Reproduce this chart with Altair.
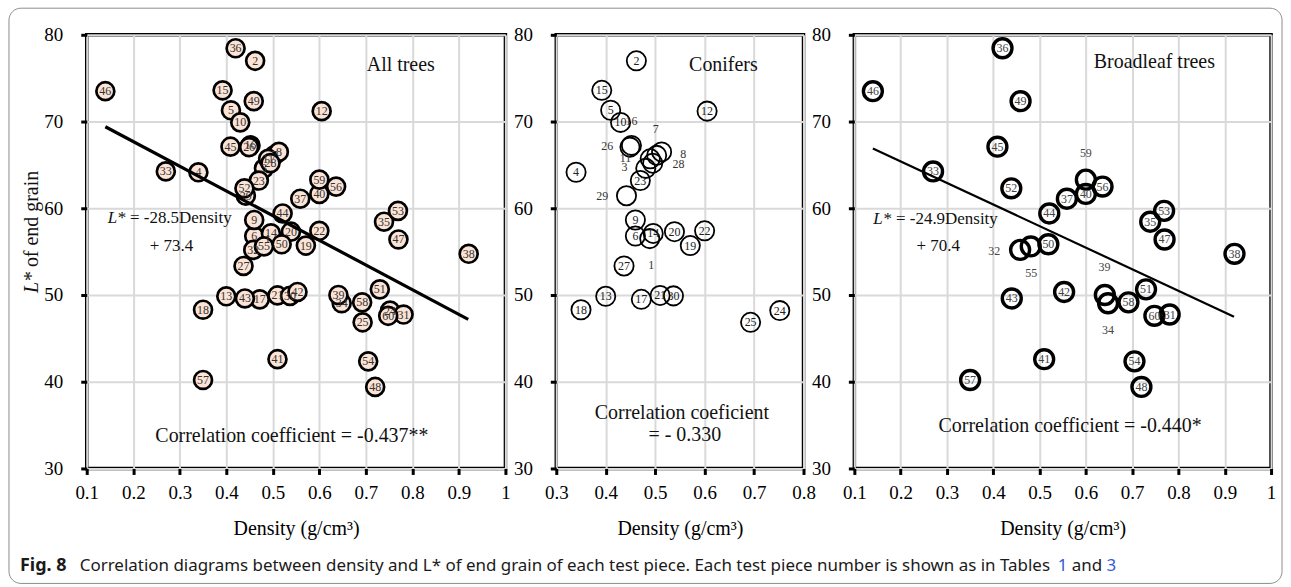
import altair as alt
import pandas as pd

# ---------------- data ----------------
con_id = list(range(1, 31))
con_density = [0.489, 0.462, 0.481, 0.340, 0.410, 0.460, 0.503, 0.513, 0.460, 0.430,
               0.490, 0.605, 0.400, 0.496, 0.392, 0.452, 0.472, 0.350, 0.571, 0.539,
               0.510, 0.600, 0.470, 0.752, 0.693, 0.449, 0.437, 0.495, 0.442, 0.537]
con_l = [56.5, 77.0, 64.6, 64.15, 71.3, 56.8, 66.1, 66.5, 58.65, 69.9,
         65.7, 71.2, 49.85, 57.1, 73.6, 67.25, 49.5, 48.3, 55.7, 57.3,
         49.95, 57.4, 63.2, 48.2, 46.85, 67.05, 53.35, 65.2, 61.45, 49.9]

bl_id = list(range(31, 61))
bl_density = [0.781, 0.458, 0.270, 0.648, 0.739, 0.420, 0.559, 0.921, 0.641, 0.600,
              0.510, 0.553, 0.440, 0.521, 0.409, 0.140, 0.770, 0.720, 0.459, 0.519,
              0.730, 0.439, 0.769, 0.705, 0.481, 0.636, 0.350, 0.692, 0.600, 0.748]
bl_l = [47.75, 55.2, 64.25, 49.05, 58.45, 78.45, 61.1, 54.75, 50.0, 61.65,
        42.6, 50.35, 49.6, 59.4, 67.1, 73.5, 56.4, 39.4, 72.35, 55.85,
        50.65, 62.3, 59.7, 42.35, 55.6, 62.5, 40.2, 49.15, 63.3, 47.6]

# labels drawn beside (not inside) their circles
con_ext_id = [16, 26, 7, 8, 28, 11, 3, 29, 1]
con_ext_x = [0.452, 0.403, 0.501, 0.557, 0.547, 0.440, 0.438, 0.393, 0.492]
con_ext_y = [70.05, 67.15, 69.1, 66.3, 65.1, 65.8, 64.7, 61.4, 53.5]
bl_ext_id = [59, 32, 55, 39, 34]
bl_ext_x = [0.600, 0.402, 0.482, 0.640, 0.648]
bl_ext_y = [66.4, 55.1, 52.5, 53.2, 46.0]

# regression lines (end points)
all_line_x = [0.14, 0.92]
all_line_y = [69.4, 47.2]
bl_line_x = [0.14, 0.92]
bl_line_y = [66.9, 47.5]

x_ticks_wide = [0.1, 0.2, 0.3, 0.4, 0.5, 0.6, 0.7, 0.8, 0.9, 1.0]
x_ticks_con = [0.3, 0.4, 0.5, 0.6, 0.7, 0.8]
y_ticks = [30, 40, 50, 60, 70, 80]

SERIF = "Liberation Serif"
SANS = "Noto Sans"


def pts(ids, xs, ys):
    return pd.DataFrame({"id": [str(i) for i in ids], "d": xs, "l": ys})


def encs(domain, ticks):
    x = alt.X("d:Q", scale=alt.Scale(domain=domain, nice=False, zero=False),
              axis=alt.Axis(values=ticks, format=".1~f", title="Density (g/cm³)",
                            grid=True, gridColor="#d9d9d9", gridWidth=2,
                            domain=False, ticks=True, tickColor="black", tickWidth=3,
                            tickSize=6, labelFont=SERIF, labelFontSize=19,
                            labelColor="black", labelPadding=9,
                            titleFont=SERIF, titleFontSize=20, titleFontWeight="normal",
                            titleColor="black", titlePadding=16, labelFlush=False))
    y = alt.Y("l:Q", scale=alt.Scale(domain=[30, 80], nice=False, zero=False),
              axis=alt.Axis(values=y_ticks, title=None, grid=True, gridColor="#d9d9d9",
                            gridWidth=2, domain=False, ticks=True, tickColor="black",
                            tickWidth=3, tickSize=6, labelFont=SERIF, labelFontSize=19,
                            labelColor="black", labelPadding=18, labelFlush=False))
    return x, y


def note(X, Y, d, l, t, **kw):
    base = dict(font=SERIF, fontSize=20, color="#111", align="center", baseline="middle")
    base.update(kw)
    return alt.Chart(pd.DataFrame({"d": [d], "l": [l], "t": [t]})).mark_text(**base).encode(
        x=X, y=Y, text="t:N")


def pix_text(t, x, y, **kw):
    base = dict(font=SERIF, fontSize=20, color="#111", align="left", baseline="middle")
    base.update(kw)
    return alt.Chart(pd.DataFrame({"t": [t]})).mark_text(**base).encode(
        x=alt.value(x), y=alt.value(y), text="t:N")


# ---------------- panel 1: all trees ----------------
X1, Y1 = encs([0.1, 1.0], x_ticks_wide)
all_df = pts(con_id + bl_id, con_density + bl_density, con_l + bl_l)

p1_points = alt.Chart(all_df).mark_point(
    shape="circle", size=324, filled=True, fill="#FBE3D6", fillOpacity=1,
    stroke="black", strokeWidth=2.7, opacity=1).encode(x=X1, y=Y1)
p1_labels = alt.Chart(all_df).mark_text(
    font=SERIF, fontSize=12, color="#333", baseline="middle").encode(x=X1, y=Y1, text="id:N")
p1_line = alt.Chart(pd.DataFrame({"d": all_line_x, "l": all_line_y})).mark_line(
    color="black", strokeWidth=3.2).encode(x=X1, y=Y1)

border = alt.Chart(pd.DataFrame({"a": [0]})).mark_rect(
    fill="white", fillOpacity=0, stroke="#8c8c8c", strokeWidth=1, cornerRadius=12).encode(
    x=alt.value(-78), x2=alt.value(1199), y=alt.value(-26.7), y2=alt.value(550.3))

CAP = 17
panel1 = alt.layer(
    border,
    p1_points, p1_labels, p1_line,
    note(X1, Y1, 0.775, 76.5, "All trees"),
    note(X1, Y1, 0.145, 58.9, "L*", fontSize=17, fontStyle="italic", align="left"),
    note(X1, Y1, 0.193, 58.9, "= -28.5Density", fontSize=17, align="left"),
    note(X1, Y1, 0.282, 55.6, "+ 73.4", fontSize=17),
    note(X1, Y1, 0.541, 33.75, "Correlation coefficient = -0.437**"),
    pix_text("L*", -55, 259, angle=270, fontStyle="italic"),
    pix_text("of end grain", -55, 233, angle=270),
    pix_text("Fig. 8", -67, 533, font=SANS, fontSize=18, fontWeight="bold", color="#1a1a1a"),
    pix_text("Correlation diagrams between density and L* of end grain of each test piece. "
             "Each test piece number is shown as in Tables", -7, 533, font=SANS, fontSize=CAP,
             color="#1a1a1a"),
    pix_text("1", 974, 533, font=SANS, fontSize=CAP, color="#2f5cd6"),
    pix_text("and", 988, 533, font=SANS, fontSize=CAP, color="#1a1a1a"),
    pix_text("3", 1023, 533, font=SANS, fontSize=CAP, color="#2f5cd6"),
).properties(width=420, height=435)

# ---------------- panel 2: conifers ----------------
X2, Y2 = encs([0.3, 0.8], x_ticks_con)
con_df = pts(con_id, con_density, con_l)
con_in = con_df[~con_df["id"].isin([str(i) for i in con_ext_id])]
con_ext = pts(con_ext_id, con_ext_x, con_ext_y)

p2_points = alt.Chart(con_df).mark_point(
    shape="circle", size=372, filled=False, stroke="black", strokeWidth=1.8,
    opacity=1).encode(x=X2, y=Y2)
p2_labels = alt.Chart(con_in).mark_text(
    font=SERIF, fontSize=12, color="#222", baseline="middle").encode(x=X2, y=Y2, text="id:N")
p2_ext = alt.Chart(con_ext).mark_text(
    font=SERIF, fontSize=12, color="#333", baseline="middle").encode(x=X2, y=Y2, text="id:N")

panel2 = alt.layer(
    p2_points, p2_labels, p2_ext,
    note(X2, Y2, 0.638, 76.5, "Conifers"),
    note(X2, Y2, 0.554, 36.4, "Correlation coeficient"),
    note(X2, Y2, 0.560, 33.9, "= - 0.330"),
).properties(width=248, height=435)

# ---------------- panel 3: broadleaf trees ----------------
X3, Y3 = encs([0.1, 1.0], x_ticks_wide)
bl_df = pts(bl_id, bl_density, bl_l)
bl_in = bl_df[~bl_df["id"].isin([str(i) for i in bl_ext_id])]
bl_ext = pts(bl_ext_id, bl_ext_x, bl_ext_y)

p3_points = alt.Chart(bl_df).mark_point(
    shape="circle", size=361, filled=False, stroke="black", strokeWidth=3.4,
    opacity=1).encode(x=X3, y=Y3)
p3_labels = alt.Chart(bl_in).mark_text(
    font=SERIF, fontSize=12, color="#444", baseline="middle").encode(x=X3, y=Y3, text="id:N")
p3_ext = alt.Chart(bl_ext).mark_text(
    font=SERIF, fontSize=12, color="#444", baseline="middle").encode(x=X3, y=Y3, text="id:N")
p3_line = alt.Chart(pd.DataFrame({"d": bl_line_x, "l": bl_line_y})).mark_line(
    color="black", strokeWidth=2.2).encode(x=X3, y=Y3)

panel3 = alt.layer(
    p3_points, p3_labels, p3_ext, p3_line,
    note(X3, Y3, 0.748, 76.9, "Broadleaf trees"),
    note(X3, Y3, 0.141, 58.8, "L*", fontSize=17, fontStyle="italic", align="left"),
    note(X3, Y3, 0.190, 58.8, "= -24.9Density", fontSize=17, align="left"),
    note(X3, Y3, 0.281, 55.7, "+ 70.4", fontSize=17),
    note(X3, Y3, 0.566, 34.9, "Correlation coefficient = -0.440*"),
).properties(width=418, height=435)

chart = alt.hconcat(panel1, panel2, panel3, spacing=51, bounds="flush").properties(
    padding={"left": 6, "top": 5, "right": 6, "bottom": 3},
    background="white",
).configure_view(stroke="black", strokeWidth=3.5)

chart.save("out.html", embed_options={"renderer": "svg", "actions": False})
